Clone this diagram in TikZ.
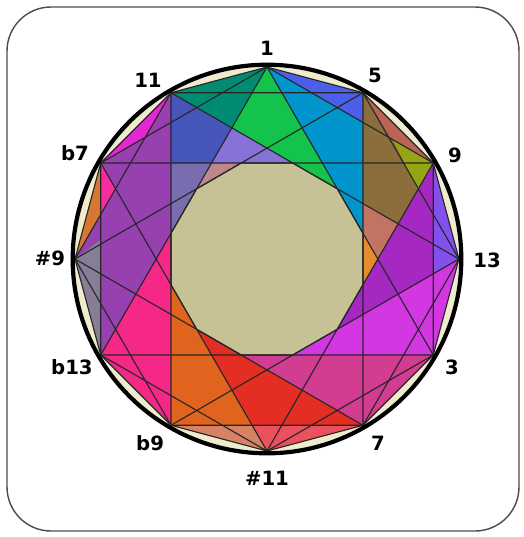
\documentclass[tikz,border=0pt]{standalone}
\usepackage{fontspec}
\setmainfont{DejaVu Sans}
\definecolor{cream}{RGB}{240,235,205}
\definecolor{beige}{RGB}{199,194,150}
\definecolor{teal1}{RGB}{0,140,115}
\definecolor{green1}{RGB}{20,195,75}
\definecolor{violet1}{RGB}{75,95,235}
\definecolor{cyan1}{RGB}{0,150,205}
\definecolor{blue1}{RGB}{70,85,185}
\definecolor{lav}{RGB}{135,115,215}
\definecolor{purple1}{RGB}{150,65,175}
\definecolor{grayblue}{RGB}{120,110,175}
\definecolor{rose}{RGB}{190,135,140}
\definecolor{magenta1}{RGB}{225,40,210}
\definecolor{orange1}{RGB}{215,120,50}
\definecolor{pink1}{RGB}{245,45,160}
\definecolor{gray1}{RGB}{135,125,150}
\definecolor{hotpink}{RGB}{245,40,135}
\definecolor{orange2}{RGB}{225,100,30}
\definecolor{tan1}{RGB}{215,130,100}
\definecolor{red1}{RGB}{228,45,35}
\definecolor{pinkred}{RGB}{235,80,95}
\definecolor{pink2}{RGB}{210,60,145}
\definecolor{magenta2}{RGB}{210,55,225}
\definecolor{purple2}{RGB}{165,40,195}
\definecolor{violet2}{RGB}{130,80,235}
\definecolor{olive}{RGB}{140,110,60}
\definecolor{brown1}{RGB}{185,100,85}
\definecolor{ygreen}{RGB}{150,165,20}
\definecolor{salmon}{RGB}{195,115,100}
\definecolor{orange3}{RGB}{230,140,45}
\begin{document}
\begin{tikzpicture}[x=4.8cm,y=4.8cm,
    chord/.style={draw=black!85,line width=0.8pt},
    tone/.style={font=\bfseries\fontsize{14}{16}\selectfont}]
\useasboundingbox (-1.3906,-1.4479) rectangle (1.3385,1.349);
\draw[draw=black!70,line width=1pt,rounded corners=1.1cm] (-1.354,-1.4167) rectangle (1.3125,1.3125);
\coordinate (c) at (0,0);
\foreach \i in {0,...,11} \coordinate (v\i) at ({90-30*\i}:1);
\foreach \a in {15,45,...,345} \coordinate (d\a) at (\a:0.5176);
\foreach \a in {0,30,...,330} \coordinate (e\a) at (\a:0.5774);
\foreach \a in {15,45,...,345} \coordinate (f\a) at (\a:0.7071);
% colour patches
\fill[cream] (c) circle (1);
\fill[teal1] (v11) -- (v0) -- (f105) -- cycle;
\fill[green1] (v0) -- (f105) -- (d45) -- cycle;
\fill[violet1] (v0) -- (v1) -- (0.5,0.711) -- cycle;
\fill[cyan1] (v0) -- (0.5,0.711) -- (d15) -- cycle;
\fill[blue1] (v11) -- (f105) -- (e120) -- (f135) -- cycle;
\fill[lav] (f105) -- (d75) -- (e120) -- cycle;
\fill[rose] (e120) -- (d105) -- (d135) -- cycle;
\fill[purple1] (v11) -- (f135) -- (d165) -- (v8) -- (v9) -- (v10) -- cycle;
\fill[grayblue] (f135) -- (e120) -- (d165) -- cycle;
\fill[magenta1] (v11) -- (v10) -- (-0.634,0.634) -- cycle;
\fill[orange1] (v10) -- (v9) -- (-0.866,0.232) -- cycle;
\fill[pink1] (v10) -- (-0.866,0.232) -- (-0.789,0.366) -- cycle;
\fill[gray1] (v9) -- (-0.866,0.1) -- (v8) -- cycle;
\fill[hotpink] (v8) -- (d165) -- (v7) -- cycle;
\fill[orange2] (d195) -- (v7) -- (-0.077,-0.866) -- cycle;
\fill[tan1] (v7) -- (v6) -- (-0.077,-0.866) -- cycle;
\fill[red1] (d225) -- (v6) -- (v5) -- cycle;
\fill[pinkred] (-0.077,-0.866) -- (v6) -- (v5) -- cycle;
\fill[pink2] (d255) -- (v4) -- (v5) -- cycle;
\fill[magenta2] (d285) -- (v4) -- (v3) -- cycle;
\fill[purple2] (d315) -- (v3) -- (v2) -- cycle;
\fill[violet2] (v2) -- (v3) -- (0.866,-0.077) -- cycle;
\fill[olive] (v1) -- (v2) -- (d345) -- cycle;
\fill[brown1] (v1) -- (v2) -- (0.634,0.634) -- cycle;
\fill[ygreen] (v2) -- (0.656,0.621) -- (0.785,0.36) -- cycle;
\fill[salmon] (e30) -- (f15) -- (d345) -- cycle;
\fill[orange3] (d15) -- (e0) -- (d345) -- cycle;
% inner field
\filldraw[fill=beige,draw=black!85,line width=0.8pt] (d15) \foreach \a in {45,75,...,345} {-- (d\a)} -- cycle;
% chords
\foreach \i [evaluate=\i as \ja using {int(mod(\i+1,12))},
             evaluate=\i as \jb using {int(mod(\i+2,12))},
             evaluate=\i as \jc using {int(mod(\i+4,12))}] in {0,...,11}
  \draw[chord] (v\i) -- (v\ja) (v\i) -- (v\jb) (v\i) -- (v\jc);
\draw[line width=3pt] (c) circle (1.012);
% tones
\node[tone] (t1) at (0,1.099) {1};
\node[tone] (t5) at (0.563,0.958) {5};
\node[tone] (t9) at (0.979,0.542) {9};
\node[tone] (t13) at (1.146,-0.005) {13};
\node[tone] (t3) at (0.964,-0.563) {3};
\node[tone] (t7) at (0.578,-0.958) {7};
\node[tone] (ts11) at (0,-1.14) {\#11};
\node[tone] (tb9) at (-0.609,-0.958) {b9};
\node[tone] (tb13) at (-1.016,-0.563) {b13};
\node[tone] (ts9) at (-1.13,0.005) {\#9};
\node[tone] (tb7) at (-1.0,0.552) {b7};
\node[tone] (t11) at (-0.62,0.932) {11};
\end{tikzpicture}
\end{document}
